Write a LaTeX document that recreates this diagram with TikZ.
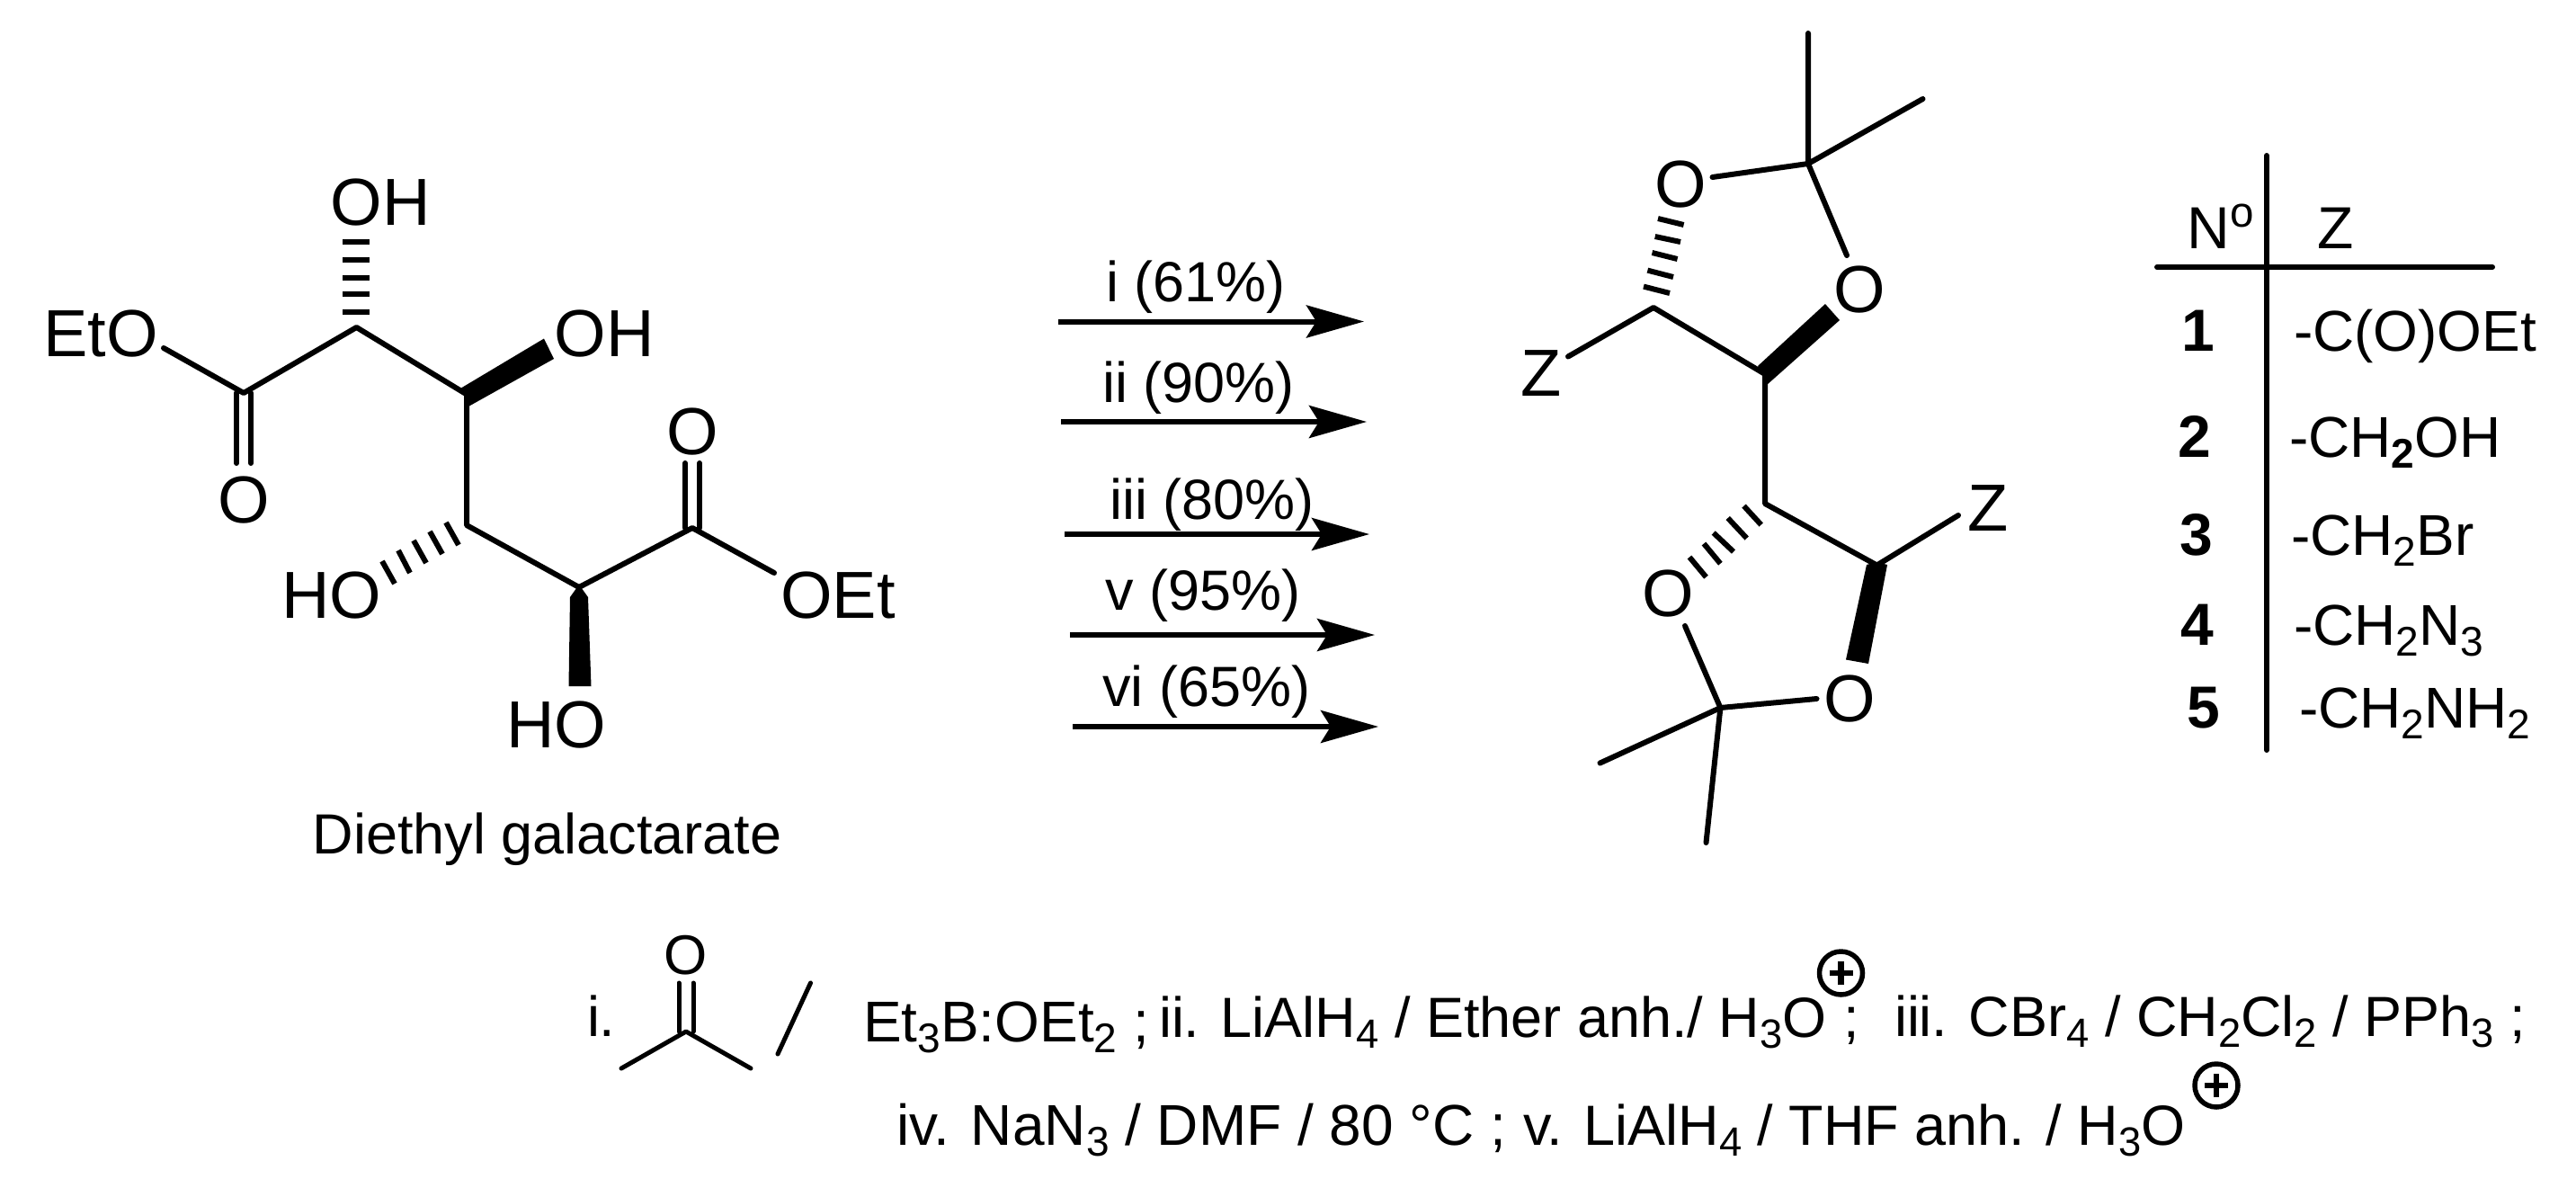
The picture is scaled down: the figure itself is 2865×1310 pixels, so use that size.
\documentclass[tikz,border=0pt]{standalone}
\usepackage{fontspec}
\usepackage{graphicx}
\setmainfont{Liberation Sans}
\usetikzlibrary{arrows.meta}
\newcommand\chsub[1]{\raisebox{-0.2em}{\scalebox{0.72}{#1}}}
\newcommand\chsup[1]{\raisebox{0.36em}{\scalebox{0.72}{#1}}}
\tikzset{
  txt/.style={inner sep=0pt,outer sep=0pt,text=black},
  atom/.style={txt,anchor=base,font=\fontsize{74pt}{80pt}\selectfont},
  captext/.style={txt,anchor=base,font=\fontsize{63pt}{70pt}\selectfont},
  arrlabel/.style={txt,anchor=base,font=\fontsize{63pt}{70pt}\selectfont},
  tabtxt/.style={txt,anchor=base west,font=\fontsize{64pt}{70pt}\selectfont},
  tabnum/.style={txt,anchor=base,font=\fontsize{66pt}{70pt}\selectfont\bfseries},
  tabhead/.style={txt,anchor=base,font=\fontsize{66pt}{70pt}\selectfont},
  cond/.style={txt,anchor=base west,font=\fontsize{63pt}{70pt}\selectfont},
  condw/.style={cond,font=\fontsize{64pt}{70pt}\selectfont},
  bond/.style={draw=black,line width=6pt,line cap=round,line join=round},
  thin bond/.style={draw=black,line width=5pt,line cap=round,line join=round},
  hashbar/.style={draw=black,line width=6pt,line cap=butt},
  wedgefill/.style={fill=black,draw=none},
  rxn/.style={draw=black,line width=6pt,-{Stealth[length=64pt,width=36pt,inset=11pt]}},
  tabrule/.style={draw=black,line width=6pt,line cap=round},
  chg/.style={draw=black,line width=5.5pt,fill=none},
  plusbar/.style={draw=black,line width=6.5pt},
}
\begin{document}
\begin{tikzpicture}[x=1pt,y=-1pt]
\fill[white] (0,0) rectangle (2865,1310);
\useasboundingbox (0,0) rectangle (2865,1310);

% --- diethyl galactarate ---
\coordinate (c1) at (271,437);
\coordinate (c2) at (396.5,364);
\coordinate (c3) at (519,438.5);
\coordinate (c4) at (519,584);
\coordinate (c5) at (644,653);
\coordinate (c6) at (770,587);
\coordinate (oe1) at (182,387);
\coordinate (oe2) at (861,637);
\node[atom] (oh1) at (423,250) {OH};
\node[atom] (eto) at (112,396) {EtO};
\node[atom] (oh2) at (672,396) {OH};
\node[atom] (o1) at (271,581) {O};
\node[atom] (o2) at (770,505) {O};
\node[atom] (oet) at (932,687) {OEt};
\node[atom] (ho1) at (369,687) {HO};
\node[atom] (ho2) at (619,831) {HO};
\draw[bond] (oe1) -- (c1) -- (c2) -- (c3) -- (c4) -- (c5) -- (c6) -- (oe2);
\coordinate (d1a) at (263,437); \coordinate (d1b) at (263,515);
\coordinate (d1c) at (279,437); \coordinate (d1d) at (279,515);
\coordinate (d2a) at (762,515); \coordinate (d2b) at (762,587);
\coordinate (d2c) at (778,515); \coordinate (d2d) at (778,587);
\draw[bond] (d1a) -- (d1b);
\draw[bond] (d1c) -- (d1d);
\draw[bond] (d2a) -- (d2b);
\draw[bond] (d2c) -- (d2d);
\fill[wedgefill] (512,432) -- (605,376.5) -- (616,399) -- (521,452) -- (519,441) -- cycle;
\fill[wedgefill] (644,650) -- (634,664) -- (632.5,763) -- (657.5,763) -- (654,664) -- cycle;
\foreach \y in {347,327,309,289,269}
  \draw[hashbar] (381,\y) -- (411,\y);
\foreach \ax/\ay/\bx/\by in {496/581/510/606,478/591/492/616,460/601/474/626,443/612/456/637,425/624/439/649}
  \draw[hashbar] (\ax,\ay) -- (\bx,\by);
\node[captext] (name) at (608.5,949) {Diethyl galactarate};

% --- reaction arrows ---
\coordinate (a1s) at (1177,357.5); \coordinate (a1e) at (1517,357.5);
\coordinate (a2s) at (1180,469);   \coordinate (a2e) at (1520,469);
\coordinate (a3s) at (1184,594);   \coordinate (a3e) at (1523,594);
\coordinate (a4s) at (1190,706);   \coordinate (a4e) at (1529,706);
\coordinate (a5s) at (1193,808);   \coordinate (a5e) at (1533,808);
\draw[rxn] (a1s) -- (a1e);
\draw[rxn] (a2s) -- (a2e);
\draw[rxn] (a3s) -- (a3e);
\draw[rxn] (a4s) -- (a4e);
\draw[rxn] (a5s) -- (a5e);
\node[arrlabel] (l1) at (1330,335) {i (61\%)};
\node[arrlabel] (l2) at (1333,447) {ii (90\%)};
\node[arrlabel] (l3) at (1348,577.5) {iii (80\%)};
\node[arrlabel] (l4) at (1338,678) {v (95\%)};
\node[arrlabel] (l5) at (1342,785.5) {vi (65\%)};

% --- bis-acetonide ---
\coordinate (k1) at (2011,182);
\coordinate (m1) at (2011,37);
\coordinate (m2) at (2138.5,110);
\coordinate (k1a) at (1904.5,197);
\coordinate (k1b) at (2054,284);
\coordinate (r1) at (1839,342);
\coordinate (r2) at (1963,416);
\coordinate (r3) at (1963,560);
\coordinate (r4) at (2087.5,628.5);
\coordinate (zb1) at (1744,396.5);
\coordinate (zb2) at (2178,573);
\coordinate (k2) at (1913.4,787);
\coordinate (k2a) at (2020.5,777);
\coordinate (k2b) at (1874,696);
\coordinate (m3) at (1779.5,848.5);
\coordinate (m4) at (1897.5,937);
\node[atom] (ot1) at (1869,230) {O};
\node[atom] (ot2) at (2068,347) {O};
\node[atom] (ob1) at (1855,685.5) {O};
\node[atom] (ob2) at (2057,802.5) {O};
\node[atom] (z1) at (1714,440) {Z};
\node[atom] (z2) at (2211,590) {Z};
\draw[bond] (m1) -- (k1) -- (m2);
\draw[bond] (k1a) -- (k1) -- (k1b);
\draw[bond] (zb1) -- (r1) -- (r2) -- (r3) -- (r4) -- (zb2);
\draw[bond] (k2a) -- (k2) -- (k2b);
\draw[bond] (m3) -- (k2) -- (m4);
\fill[wedgefill] (1955,407) -- (2030,338) -- (2046,356) -- (1965,428) -- (1962,418) -- cycle;
\fill[wedgefill] (2076,628) -- (2053,733.5) -- (2078,738) -- (2099,628) -- (2087.5,625) -- cycle;
\foreach \ax/\ay/\bx/\by in {1844/243/1872.6/250,1840.7/263/1869/269,1837.5/281/1865.6/288,1832.4/300.6/1861/308,1828/318.6/1857/326,
  1939.5/562.6/1958.7/583.5,1921.7/576/1942.7/598.5,1905.7/592.5/1928/613.5,1895/604.5/1913.4/626.7,1879/619.5/1897.5/641.7}
  \draw[hashbar] (\ax,\ay) -- (\bx,\by);

% --- table ---
\coordinate (tv1) at (2521,173); \coordinate (tv2) at (2521,834);
\coordinate (th1) at (2399,297); \coordinate (th2) at (2772,297);
\draw[tabrule] (tv1) -- (tv2);
\draw[tabrule] (th1) -- (th2);
\node[tabhead] (tn) at (2470,276) {N\chsup{o}};
\node[tabhead] (tz) at (2598,276) {Z};
\node[tabnum] (n1) at (2445,390) {1};
\node[tabnum] (n2) at (2441,508) {2};
\node[tabnum] (n3) at (2443,617) {3};
\node[tabnum] (n4) at (2444,717) {4};
\node[tabnum] (n5) at (2451,809) {5};
\node[tabtxt] (z1t) at (2551,390) {-C(O)OEt};
\node[tabtxt] (z2t) at (2546,508) {-CH\chsub{\textbf{2}}OH};
\node[tabtxt] (z3t) at (2548,617) {-CH\chsub{2}Br};
\node[tabtxt] (z4t) at (2551,717) {-CH\chsub{2}N\chsub{3}};
\node[tabtxt] (z5t) at (2557,809) {-CH\chsub{2}NH\chsub{2}};

% --- conditions ---
\node[cond] (ci) at (653,1152) {i.};
\node[txt,anchor=base,font=\fontsize{62pt}{60pt}\selectfont] (acO) at (763,1083) {O};
\coordinate (acC) at (763,1147);
\coordinate (acM1) at (691,1188);
\coordinate (acM2) at (835,1188);
\coordinate (acS1) at (901.5,1093);
\coordinate (acS2) at (865,1172);
\coordinate (acD1) at (755,1093); \coordinate (acD2) at (755,1147);
\coordinate (acD3) at (771,1093); \coordinate (acD4) at (771,1147);
\draw[thin bond] (acM1) -- (acC) -- (acM2);
\draw[thin bond] (acD1) -- (acD2);
\draw[thin bond] (acD3) -- (acD4);
\draw[thin bond] (acS1) -- (acS2);
\node[condw] (c1a) at (960,1158) {Et\chsub{3}B:OEt\chsub{2} ;};
\node[cond] (c1b) at (1289,1153) {ii. LiAlH\chsub{4} / Ether anh./ H\chsub{3}O};
\node[cond] (c1c) at (2050,1153) {;};
\node[cond] (c1d) at (2107,1152) {iii. CBr\chsub{4} / CH\chsub{2}Cl\chsub{2} / PPh\chsub{3} ;};
\node[condw] (c2a) at (997,1273) {iv. NaN\chsub{3} / DMF / 80 °C ;};
\node[cond] (c2b) at (1694,1273) {v. LiAlH\chsub{4} / THF anh. / H\chsub{3}O};
\coordinate (p1) at (2047.5,1082);
\coordinate (p2) at (2465,1207);
\foreach \p in {p1,p2}{
  \draw[chg] (\p) circle (24pt);
  \draw[plusbar] ([xshift=-13pt]\p) -- ([xshift=13pt]\p);
  \draw[plusbar] ([yshift=-13pt]\p) -- ([yshift=13pt]\p);
}
\end{tikzpicture}
\end{document}
